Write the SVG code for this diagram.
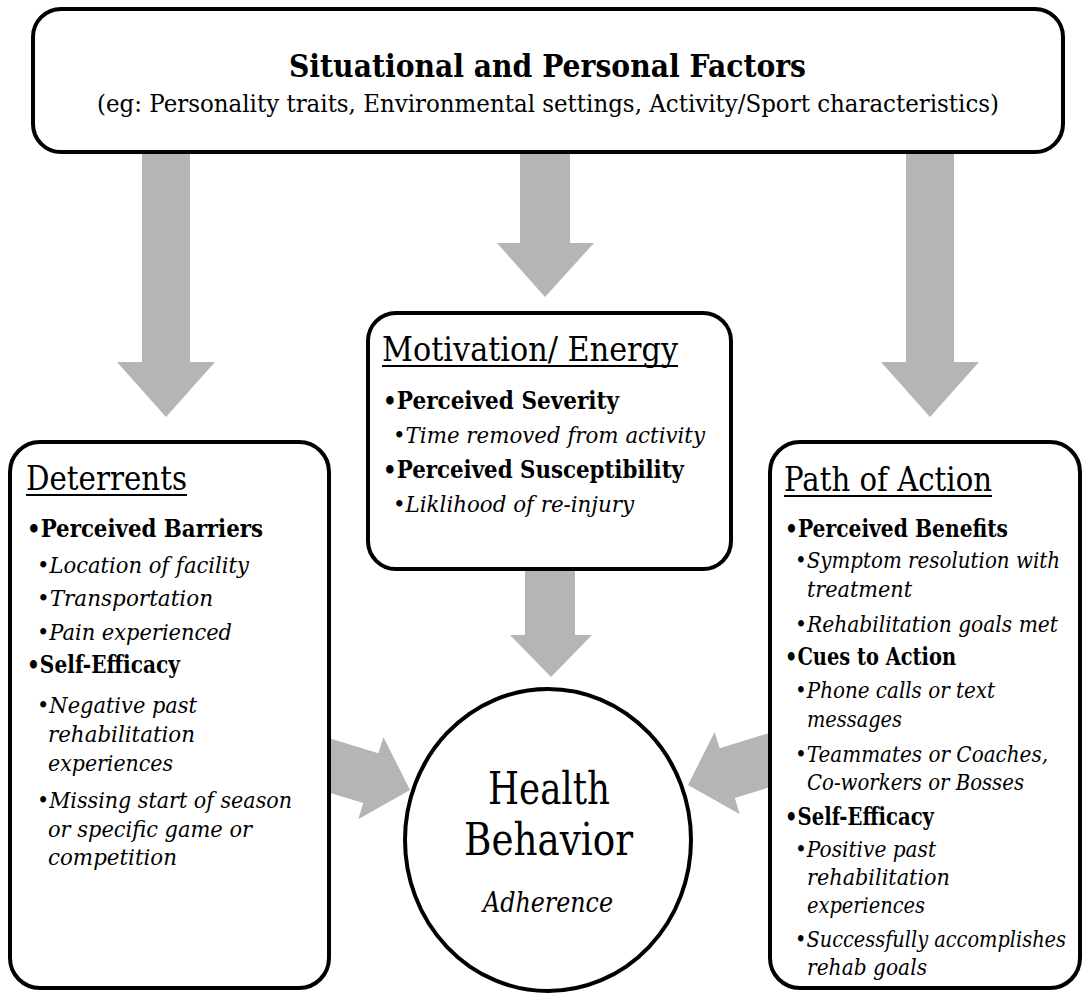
<svg xmlns="http://www.w3.org/2000/svg" width="1083" height="994" viewBox="0 0 1083 994">
<style>
.box{fill:#fff;stroke:#000;stroke-width:4}
.arrow{fill:#b5b5b5;stroke:none}
text{font-family:"DejaVu Serif","Liberation Serif",serif;fill:#000}
.t{font-weight:bold;font-size:32px}
.sub{font-size:25px}
.h{font-size:33px}
.b{font-weight:bold;font-size:24px}
.i{font-style:italic;font-size:23px}
.big{font-size:45px}
.adh{font-style:italic;font-size:28px}
.ul{stroke:#000;stroke-width:2}
</style>
<rect width="1083" height="994" fill="#fff"/>
<g id="connectors">
<polygon class="arrow" points="142,150 190,150 190,362 215,362 166,417 117,362 142,362"/>
<polygon class="arrow" points="520,150 570,150 570,243 594,243 545,297 497,243 520,243"/>
<polygon class="arrow" points="906,150 954,150 954,362 979,362 930,417 881,362 906,362"/>
<polygon class="arrow" points="525,567 575,567 575,635 592,635 551,677 510,635 525,635"/>
<polygon class="arrow" transform="translate(410,790) rotate(17)" points="0,0 -41,-43 -41,-26 -100,-26 -100,26 -41,26 -41,43"/>
<polygon class="arrow" transform="translate(688,785) rotate(163)" points="0,0 -41,-43 -41,-26 -100,-26 -100,26 -41,26 -41,43"/>
</g>
<g id="factors">
<rect class="box" x="33" y="9" width="1030" height="143" rx="28"/>
<text class="t" x="289" y="77" textLength="517" lengthAdjust="spacingAndGlyphs">Situational and Personal Factors</text>
<text class="sub" x="97" y="112" textLength="902" lengthAdjust="spacingAndGlyphs">(eg: Personality traits, Environmental settings, Activity/Sport characteristics)</text>
</g>
<g id="motivation">
<rect class="box" x="368" y="313" width="363" height="256" rx="28"/>
<text class="h" x="382" y="361" textLength="296" lengthAdjust="spacingAndGlyphs">Motivation/ Energy</text>
<line class="ul" x1="382" y1="366" x2="678" y2="366"/>
<text class="b" x="383" y="409" textLength="236" lengthAdjust="spacingAndGlyphs">•Perceived Severity</text>
<text class="i" x="393" y="443" textLength="312" lengthAdjust="spacingAndGlyphs">•Time removed from activity</text>
<text class="b" x="383" y="478" textLength="301" lengthAdjust="spacingAndGlyphs">•Perceived Susceptibility</text>
<text class="i" x="393" y="512" textLength="241" lengthAdjust="spacingAndGlyphs">•Liklihood of re-injury</text>
</g>
<g id="deterrents">
<rect class="box" x="10" y="442" width="319" height="546" rx="30"/>
<text class="h" x="26" y="490" textLength="161" lengthAdjust="spacingAndGlyphs">Deterrents</text>
<line class="ul" x1="26" y1="495" x2="187" y2="495"/>
<text class="b" x="27" y="537" textLength="236" lengthAdjust="spacingAndGlyphs">•Perceived Barriers</text>
<text class="i" x="37" y="573" textLength="212" lengthAdjust="spacingAndGlyphs">•Location of facility</text>
<text class="i" x="37" y="606" textLength="176" lengthAdjust="spacingAndGlyphs">•Transportation</text>
<text class="i" x="37" y="640" textLength="195" lengthAdjust="spacingAndGlyphs">•Pain experienced</text>
<text class="b" x="27" y="673" textLength="153" lengthAdjust="spacingAndGlyphs">•Self-Efficacy</text>
<text class="i" x="37" y="713" textLength="160" lengthAdjust="spacingAndGlyphs">•Negative past</text>
<text class="i" x="48" y="742" textLength="147" lengthAdjust="spacingAndGlyphs">rehabilitation</text>
<text class="i" x="48" y="771" textLength="125" lengthAdjust="spacingAndGlyphs">experiences</text>
<text class="i" x="37" y="808" textLength="255" lengthAdjust="spacingAndGlyphs">•Missing start of season</text>
<text class="i" x="48" y="837" textLength="204" lengthAdjust="spacingAndGlyphs">or specific game or</text>
<text class="i" x="48" y="865" textLength="129" lengthAdjust="spacingAndGlyphs">competition</text>
</g>
<g id="path-of-action">
<rect class="box" x="770" y="442" width="310" height="546" rx="30"/>
<text class="h" x="784" y="491" textLength="208" lengthAdjust="spacingAndGlyphs">Path of Action</text>
<line class="ul" x1="784" y1="496" x2="992" y2="496"/>
<text class="b" x="785" y="537" textLength="223" lengthAdjust="spacingAndGlyphs">•Perceived Benefits</text>
<text class="i" x="795" y="568" textLength="265" lengthAdjust="spacingAndGlyphs">•Symptom resolution with</text>
<text class="i" x="807" y="597" textLength="105" lengthAdjust="spacingAndGlyphs">treatment</text>
<text class="i" x="795" y="632" textLength="263" lengthAdjust="spacingAndGlyphs">•Rehabilitation goals met</text>
<text class="b" x="785" y="665" textLength="171" lengthAdjust="spacingAndGlyphs">•Cues to Action</text>
<text class="i" x="795" y="698" textLength="200" lengthAdjust="spacingAndGlyphs">•Phone calls or text</text>
<text class="i" x="807" y="727" textLength="95" lengthAdjust="spacingAndGlyphs">messages</text>
<text class="i" x="795" y="762" textLength="253" lengthAdjust="spacingAndGlyphs">•Teammates or Coaches,</text>
<text class="i" x="807" y="790" textLength="217" lengthAdjust="spacingAndGlyphs">Co-workers or Bosses</text>
<text class="b" x="785" y="825" textLength="149" lengthAdjust="spacingAndGlyphs">•Self-Efficacy</text>
<text class="i" x="795" y="857" textLength="141" lengthAdjust="spacingAndGlyphs">•Positive past</text>
<text class="i" x="807" y="885" textLength="143" lengthAdjust="spacingAndGlyphs">rehabilitation</text>
<text class="i" x="807" y="913" textLength="118" lengthAdjust="spacingAndGlyphs">experiences</text>
<text class="i" x="795" y="947" textLength="271" lengthAdjust="spacingAndGlyphs">•Successfully accomplishes</text>
<text class="i" x="807" y="975" textLength="120" lengthAdjust="spacingAndGlyphs">rehab goals</text>
</g>
<g id="health-behavior">
<ellipse class="box" cx="548" cy="840" rx="143" ry="151"/>
<text class="big" x="488" y="804" textLength="122" lengthAdjust="spacingAndGlyphs">Health</text>
<text class="big" x="464" y="855" textLength="169" lengthAdjust="spacingAndGlyphs">Behavior</text>
<text class="adh" x="483" y="912" textLength="130" lengthAdjust="spacingAndGlyphs">Adherence</text>
</g>
</svg>
